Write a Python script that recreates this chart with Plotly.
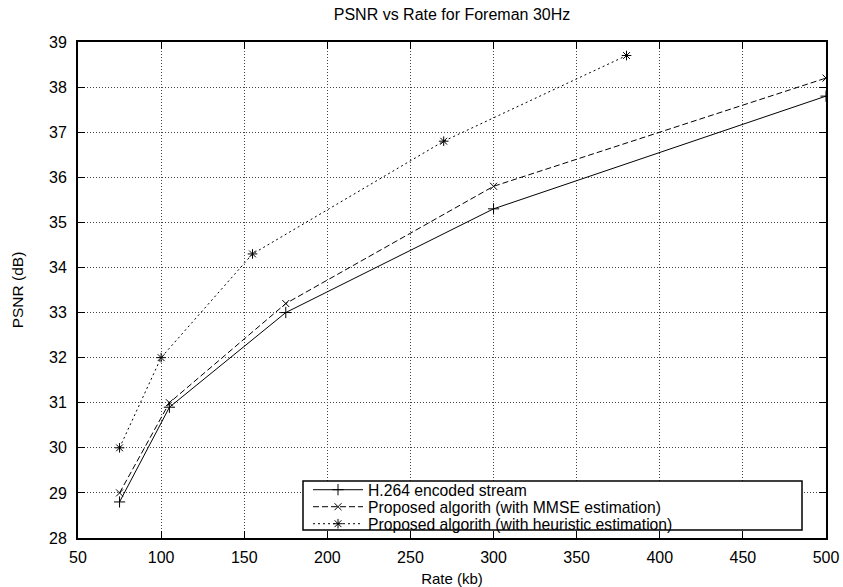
import plotly.graph_objects as go

# Rate (kb) and PSNR (dB) for each coding scheme
rate_h264 = [75, 105, 175, 300, 500]
psnr_h264 = [28.8, 30.9, 33.0, 35.3, 37.8]

rate_mmse = [75, 105, 175, 300, 500]
psnr_mmse = [29.0, 31.0, 33.2, 35.8, 38.2]

rate_heur = [75, 100, 155, 270, 380]
psnr_heur = [30.0, 32.0, 34.3, 36.8, 38.7]

names = [
    "H.264 encoded stream",
    "Proposed algorith (with MMSE estimation)",
    "Proposed algorith (with heuristic estimation)",
]

x_ticks = list(range(50, 501, 50))
y_ticks = list(range(28, 40))

FONT = "Liberation Sans, Arial, Helvetica, sans-serif"

# plot-area geometry in pixels (used for the key placement)
L, R, T, B = 78, 826, 42, 538
PW, PH = R - L, B - T


def px_x(p):
    return (p - L) / PW


def px_y(p):
    return (B - p) / PH


series = [
    (rate_h264, psnr_h264, "solid", "cross-thin-open", 8),
    (rate_mmse, psnr_mmse, "6px,3px", "x-thin-open", 7),
    (rate_heur, psnr_heur, "2px,3px", "asterisk-open", 8),
]
legend_ids = ["legend", "legend2", "legend3"]

fig = go.Figure()
for (xs, ys, dash, sym, msize), name, lid in zip(series, names, legend_ids):
    fig.add_trace(go.Scatter(
        x=xs, y=ys, name=name, mode="lines+markers", legend=lid,
        line=dict(color="black", width=1, dash=dash),
        marker=dict(symbol=sym, size=msize, color="black",
                    line=dict(color="black", width=1)),
    ))

# white key box with a black frame
fig.add_shape(type="rect", xref="paper", yref="paper",
              x0=px_x(303), x1=px_x(802), y0=px_y(530), y1=px_y(481),
              fillcolor="white", line=dict(color="black", width=1.5),
              layer="above")

axis_common = dict(
    automargin=False,
    showline=True, linecolor="black", linewidth=2, mirror="ticks",
    ticks="inside", ticklen=7, tickcolor="black", tickwidth=1,
    showgrid=True, gridcolor="#444444", gridwidth=1, griddash="1px,2px",
    zeroline=False, tickfont=dict(size=16, color="black", family=FONT),
)

fig.update_xaxes(range=[50, 500], tickvals=x_ticks, ticktext=[str(v) for v in x_ticks],
                 ticklabelstandoff=4,
                 title=dict(text="Rate (kb)", font=dict(size=15, color="black", family=FONT),
                            standoff=10),
                 **axis_common)
fig.update_yaxes(range=[28, 39], tickvals=y_ticks, ticktext=[str(v) for v in y_ticks],
                 ticklabelstandoff=6,
                 title=dict(text="PSNR (dB)", font=dict(size=15.5, color="black", family=FONT),
                            standoff=22),
                 **axis_common)

legend_style = dict(xanchor="left", yanchor="middle", bgcolor="rgba(0,0,0,0)",
                    borderwidth=0, itemwidth=50,
                    font=dict(size=15.7, color="black", family=FONT))
row_y = [490, 507, 524]

fig.update_layout(
    template="none",
    width=843, height=587,
    margin=dict(l=L, r=843 - R, t=T, b=587 - B, autoexpand=False),
    paper_bgcolor="white", plot_bgcolor="white",
    font=dict(family=FONT, size=15, color="black"),
    title=dict(text="PSNR vs Rate for Foreman 30Hz", x=(L + PW / 2) / 843, xanchor="center",
               y=1 - 14 / 587, yanchor="middle",
               font=dict(size=16, color="black", family=FONT)),
    showlegend=True,
    legend=dict(x=px_x(308), y=px_y(row_y[0]), **legend_style),
    legend2=dict(x=px_x(308), y=px_y(row_y[1]), **legend_style),
    legend3=dict(x=px_x(308), y=px_y(row_y[2]), **legend_style),
)

fig.write_html("out.html")
